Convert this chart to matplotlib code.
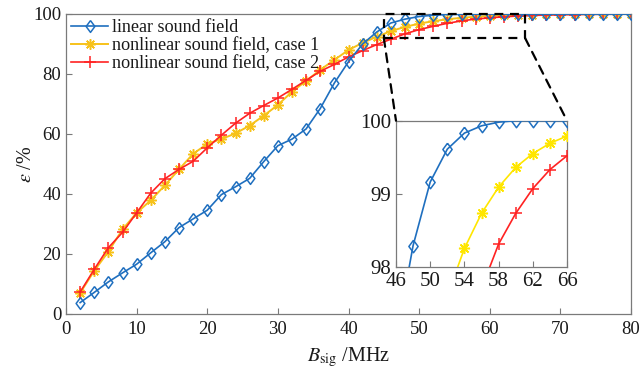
import matplotlib
matplotlib.use("Agg")
import matplotlib.pyplot as plt
from matplotlib.patches import Rectangle, ConnectionPatch

# ---------------- data ----------------
bandwidth = list(range(2, 82, 2))  # MHz

linear = [3.8, 7.2, 10.7, 13.7, 16.6, 20.4, 24.1, 28.8, 31.7, 34.6,
          39.8, 42.4, 45.2, 50.8, 56.1, 58.3, 61.7, 68.5, 77.0, 84.1,
          90.0, 94.0, 97.0, 98.29, 99.16, 99.61, 99.83, 99.93, 99.98, 100.0,
          100.0, 100.0, 100.0, 100.0, 100.0, 100.0, 100.0, 100.0, 100.0, 100.0]

nonlinear_case1 = [7.0, 14.4, 20.8, 28.2, 33.7, 37.9, 42.9, 48.2, 53.4, 56.7,
                   58.3, 60.2, 62.8, 66.1, 69.7, 74.1, 77.7, 81.4, 84.7, 88.0,
                   90.4, 92.4, 94.3, 95.7, 96.8, 97.6, 98.25, 98.73, 99.09, 99.36,
                   99.55, 99.69, 99.79, 99.86, 99.91, 99.94, 99.96, 99.98, 99.99, 99.99]

nonlinear_case2 = [7.3, 14.9, 22.1, 27.2, 33.7, 40.3, 45.1, 48.2, 50.9, 55.4,
                   59.6, 63.6, 66.9, 69.5, 72.0, 74.9, 77.9, 80.9, 83.2, 85.7,
                   87.8, 89.8, 91.6, 93.4, 94.8, 95.9, 96.9, 97.7, 98.31, 98.73,
                   99.07, 99.33, 99.52, 99.65, 99.75, 99.82, 99.87, 99.91, 99.94, 99.96]

labels = ["linear sound field", "nonlinear sound field, case 1", "nonlinear sound field, case 2"]

x_ticks = [0, 10, 20, 30, 40, 50, 60, 70, 80]
y_ticks = [0, 20, 40, 60, 80, 100]
inset_x_ticks = [46, 50, 54, 58, 62, 66]
inset_y_ticks = [98, 99, 100]

# ---------------- style ----------------
plt.rcParams['font.family'] = ['Liberation Serif', 'DejaVu Serif']
plt.rcParams['mathtext.fontset'] = 'stix'

BLUE = '#1f6fbf'
GOLD = '#f7c21a'
YELLOW = '#ffe600'
RED = '#ff2222'
GRAY = '#7a7a7a'
TXT = '#1a1a1a'

diamond = [(0, 1), (0.74, 0), (0, -1), (-0.74, 0), (0, 1)]
star = (8, 2, 0)

fig = plt.figure(figsize=(6.41, 3.75), dpi=100)
ax = fig.add_axes([66 / 641, 1 - 314 / 375, 565 / 641, 300 / 375])


def style_axes(a, fs):
    for s in a.spines.values():
        s.set_color(GRAY)
        s.set_linewidth(0.9)
    a.tick_params(direction='in', length=4, width=0.8, color=GRAY,
                  labelsize=fs, labelcolor=TXT, top=False, right=False)


ax.plot(bandwidth, linear, color=BLUE, lw=1.2, marker=diamond, ms=8.5,
        mfc='none', mec=BLUE, mew=1.1, label=labels[0], zorder=3)
ax.plot(bandwidth, nonlinear_case1, color=GOLD, lw=1.4, marker=star, ms=7.5,
        mec=GOLD, mew=1.1, label=labels[1], zorder=2)
ax.plot(bandwidth, nonlinear_case2, color=RED, lw=1.2, marker='+', ms=8,
        mec=RED, mew=1.1, label=labels[2], zorder=2)

ax.set_xlim(0, 80)
ax.set_ylim(0, 100)
ax.set_xticks(x_ticks)
ax.set_yticks(y_ticks)
style_axes(ax, 13.5)
ax.tick_params(axis='x', pad=5)
ax.set_xlabel(r'$B_{\rm sig}$ /MHz', fontsize=14.5, color=TXT, labelpad=5)
ax.set_ylabel(r'$\varepsilon$ /%', fontsize=14.5, color=TXT, labelpad=-2)

leg = ax.legend(loc='upper left', bbox_to_anchor=(0.0, 1.0), frameon=False,
                fontsize=13.1, handlelength=2.0, handletextpad=0.25,
                labelspacing=0.05, borderaxespad=0.0, borderpad=0.3)
for t in leg.get_texts():
    t.set_color(TXT)

# zoom rectangle
rect = Rectangle((45, 92), 20, 8, fill=False, ec='black', lw=1.6,
                 ls=(0, (4, 3)), clip_on=False, zorder=4)
ax.add_patch(rect)

# inset
ins = fig.add_axes([396 / 641, 1 - 266.7 / 375, 171 / 641, 146 / 375])
ins.plot(bandwidth, linear, color=BLUE, lw=1.2, marker=diamond, ms=9,
         mfc='none', mec=BLUE, mew=1.1)
ins.plot(bandwidth, nonlinear_case1, color=YELLOW, lw=1.2, marker=star, ms=8,
         mec=YELLOW, mew=1.1)
ins.plot(bandwidth, nonlinear_case2, color=RED, lw=1.2, marker='+', ms=9,
         mec=RED, mew=1.1)
ins.set_xlim(46, 66)
ins.set_ylim(98, 100)
ins.set_xticks(inset_x_ticks)
ins.set_yticks(inset_y_ticks)
style_axes(ins, 15)
for sp in ins.spines.values():
    sp.set_zorder(0)

for xa, xb in [((45, 92), (0, 1)), ((65, 92), (1, 1))]:
    con = ConnectionPatch(xyA=xa, coordsA=ax.transData, xyB=xb, coordsB=ins.transAxes,
                          color='black', lw=1.6, ls=(0, (4, 3)))
    fig.add_artist(con)

fig.savefig('out.png', dpi=100)
